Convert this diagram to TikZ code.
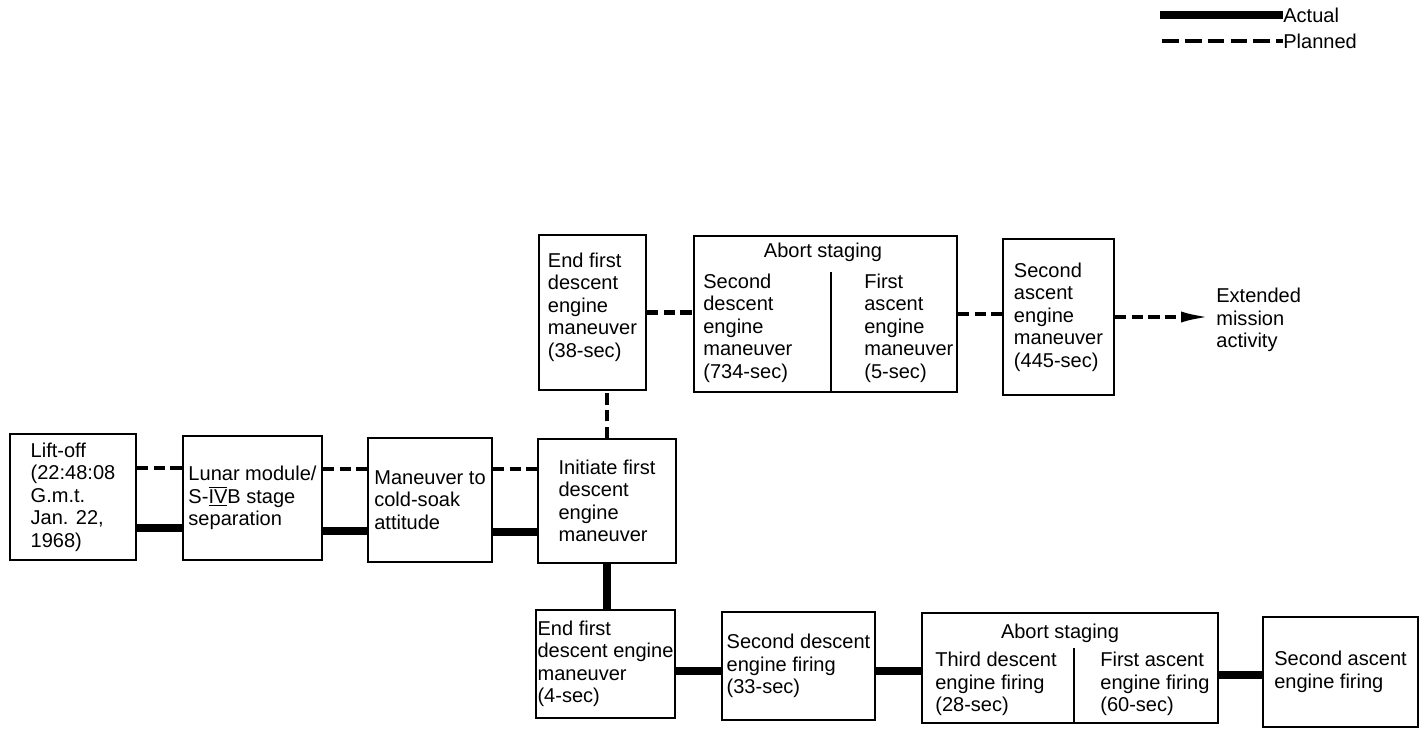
\documentclass[tikz,border=0pt]{standalone}
\usepackage{fontspec}
\setmainfont{Liberation Sans}
\usepackage{tikz}
\usetikzlibrary{arrows.meta}
\newcommand{\chartfont}{\fontsize{11.4}{12.8}\selectfont}
\newcommand{\stageno}[1]{\ensuremath{\overline{\underline{\hbox{#1}}}}}

\begin{document}
\begin{tikzpicture}[x=0.02cm, y=-0.02cm,
  box node/.style={draw, line width=1pt, align=left, inner sep=0pt, font=\chartfont},
  plain node/.style={align=left, inner sep=0pt, font=\chartfont},
  actual line/.style={line width=4.5pt},
  planned line/.style={line width=2.3pt, dash pattern=on 6.5pt off 3pt}]
\useasboundingbox (0,0) rectangle (1423,731);
% legend
\coordinate (lgA) at (1160,15);
\coordinate (lgP) at (1162,41);
\node[plain node, anchor=west] (actual) at (1283,15) {Actual};
\node[plain node, anchor=west] (planned) at (1283,41) {Planned};
\draw[actual line] (lgA) -- (actual.west);
\draw[planned line, dash pattern=on 9.5pt off 3.5pt] (lgP) -- (planned.west);
% launch row
\node[box node, minimum width=2.52cm, minimum height=2.52cm] (lift) at (73,497) {Lift-off\\(22:48:08\\G.m.t.\\Jan. 22,\\1968)};
\node[box node, minimum width=2.78cm, minimum height=2.48cm] (lm) at (252.5,498) {Lunar module/\\S-\stageno{IV}B stage\\separation};
\node[box node, minimum width=2.48cm, minimum height=2.48cm] (cold) at (430,500) {Maneuver to\\cold-soak\\attitude};
\node[box node, minimum width=2.76cm, minimum height=2.48cm] (init) at (607,501) {Initiate first\\descent\\engine\\maneuver};
% planned sequence
\node[box node, minimum width=2.14cm, minimum height=3.10cm] (end38) at (592.5,312.5) {End first\\descent\\engine\\maneuver\\(38-sec)\\[-0.15cm]};
\node[box node, minimum width=5.26cm, minimum height=3.12cm] (abortA) at (825.5,314) {};
\node[plain node] (abortAt) at (823,252) {Abort staging};
\node[plain node, anchor=west] (abortAl) at (703,328) {Second\\descent\\engine\\maneuver\\(734-sec)};
\node[plain node, anchor=west] (abortAr) at (864,328) {First\\ascent\\engine\\maneuver\\(5-sec)};
\coordinate (divA) at (831,272);
\draw[line width=0.8pt] (divA) -- (divA |- abortA.south);
\node[box node, minimum width=2.22cm, minimum height=3.12cm] (asc445) at (1058.5,317) {Second\\ascent\\engine\\maneuver\\(445-sec)};
\node[plain node, anchor=west, inner xsep=0.1cm] (ext) at (1211,320) {Extended\\mission\\activity};
% actual sequence
\node[box node, minimum width=2.78cm, minimum height=2.16cm] (end4) at (605.5,664) {End first\\descent engine\\maneuver\\(4-sec)};
\node[box node, minimum width=3.06cm, minimum height=2.16cm] (sec33) at (798.5,666) {Second descent\\engine firing\\(33-sec)};
\node[box node, minimum width=5.92cm, minimum height=2.20cm] (abortB) at (1070,668) {};
\node[plain node] (abortBt) at (1060,633) {Abort staging};
\node[plain node, anchor=west] (abortBl) at (935,684) {Third descent\\engine firing\\(28-sec)};
\node[plain node, anchor=west] (abortBr) at (1100,684) {First ascent\\engine firing\\(60-sec)};
\coordinate (divB) at (1074,648);
\draw[line width=0.8pt] (divB) -- (divB |- abortB.south);
\node[box node, minimum width=3.10cm, minimum height=2.20cm] (asc2) at (1340.5,672) {Second ascent\\engine firing};
% connectors
\draw[planned line] (lift.east |- 0,468) -- (lm.west |- 0,468);
\draw[actual line] (lift.east |- 0,528) -- (lm.west |- 0,528);
\draw[planned line] (lm.east |- 0,469) -- (cold.west |- 0,469);
\draw[actual line] (lm.east |- 0,531) -- (cold.west |- 0,531);
\draw[planned line] (cold.east |- 0,469) -- (init.west |- 0,469);
\draw[actual line] (cold.east |- 0,532) -- (init.west |- 0,532);
\draw[planned line] (init.north) -- (init.north |- end38.south);
\draw[planned line] (end38.east) -- (end38.east -| abortA.west);
\draw[planned line] (abortA.east) -- (abortA.east -| asc445.west);
\draw[planned line, -{Latex[length=0.6cm, width=0.22cm]}] (asc445.east) -- (asc445.east -| ext.west);
\draw[actual line] (init.south) -- (init.south |- end4.north);
\draw[actual line] (end4.east |- 0,671) -- (sec33.west |- 0,671);
\draw[actual line] (sec33.east |- 0,671) -- (abortB.west |- 0,671);
\draw[actual line] (abortB.east |- 0,675) -- (asc2.west |- 0,675);
\end{tikzpicture}
\end{document}
